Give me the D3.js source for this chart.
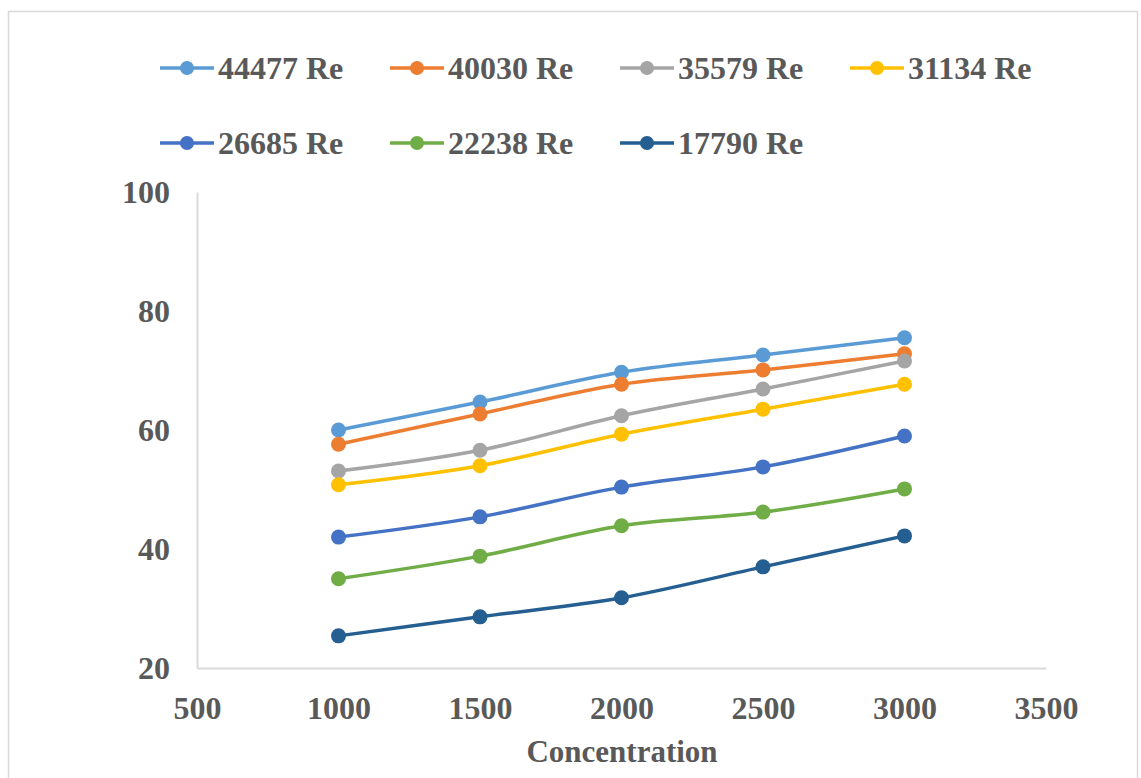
<!DOCTYPE html>
<html lang="en">
    <head>
        <meta charset="utf-8">
        <title>Concentration vs Re</title>
        <script src="https://d3js.org/d3.v7.min.js"></script>
        <style type="text/css">
        body {
            margin: 0;
            background: white;
        }
        .tick-label {
            font-family: "Liberation Serif", "Times New Roman", serif;
            font-size: 32px;
            font-weight: bold;
            fill: #595959;
        }
        .axis-title {
            font-family: "Liberation Serif", "Times New Roman", serif;
            font-size: 31px;
            font-weight: bold;
            fill: #595959;
        }
        .legend-label {
            font-family: "Liberation Serif", "Times New Roman", serif;
            font-size: 32px;
            font-weight: bold;
            fill: #595959;
        }
        </style>
    </head>
    <body>
    <div id="vis"></div>

    <script type="text/javascript">

        const width = 1141;
        const height = 778;

        // chart data
        const concentrations = [1000, 1500, 2000, 2500, 3000];
        const seriesNames = ["44477 Re", "40030 Re", "35579 Re", "31134 Re", "26685 Re", "22238 Re", "17790 Re"];
        const seriesColors = ["#5B9BD5", "#ED7D31", "#A5A5A5", "#FFC000", "#4472C4", "#70AD47", "#255E91"];
        const re44477 = [60.0, 64.7, 69.7, 72.6, 75.5];
        const re40030 = [57.6, 62.7, 67.7, 70.1, 72.8];
        const re35579 = [53.1, 56.6, 62.4, 66.9, 71.6];
        const re31134 = [50.8, 54.0, 59.3, 63.5, 67.7];
        const re26685 = [42.0, 45.4, 50.4, 53.8, 59.0];
        const re22238 = [35.0, 38.8, 43.9, 46.2, 50.1];
        const re17790 = [25.4, 28.6, 31.8, 37.0, 42.2];
        const xTicks = [500, 1000, 1500, 2000, 2500, 3000, 3500];
        const yTicks = [20, 40, 60, 80, 100];

        const allValues = [re44477, re40030, re35579, re31134, re26685, re22238, re17790];
        const series = seriesNames.map((name, i) => ({
            name: name,
            color: seriesColors[i],
            points: concentrations.map((c, j) => ({x: c, y: allValues[i][j]}))
        }));

        const xScale = d3.scaleLinear()
                         .domain([500, 3500])
                         .range([197, 1046]);

        const yScale = d3.scaleLinear()
                         .domain([20, 100])
                         .range([668, 192]);

        const svg = d3.select("#vis")
                      .append("svg")
                      .attr("width", width)
                      .attr("height", height);

        // chart border
        svg.append("rect")
           .attr("x", 8.5)
           .attr("y", 11.5)
           .attr("width", 1129)
           .attr("height", 800)
           .attr("fill", "white")
           .attr("stroke", "#D9D9D9")
           .attr("stroke-width", 1.5);

        // axes
        const bottomAxis = d3.axisBottom(xScale)
                             .tickValues(xTicks)
                             .tickSize(0)
                             .tickPadding(28)
                             .tickFormat(d3.format("d"));

        const leftAxis = d3.axisLeft(yScale)
                           .tickValues(yTicks)
                           .tickSize(0)
                           .tickPadding(27)
                           .tickFormat(d3.format("d"));

        const gx = svg.append("g")
                      .attr("transform", "translate(0," + yScale(20) + ")")
                      .call(bottomAxis);
        gx.select(".domain").attr("stroke", "#D9D9D9").attr("stroke-width", 2);
        gx.selectAll("text").attr("class", "tick-label").attr("fill", null);

        const gy = svg.append("g")
                      .attr("transform", "translate(" + xScale(500) + ",0)")
                      .call(leftAxis);
        gy.select(".domain").attr("stroke", "#D9D9D9").attr("stroke-width", 2);
        gy.selectAll("text").attr("class", "tick-label").attr("fill", null);

        // lines (smoothed like excel)
        const line = d3.line()
                       .x(d => xScale(d.x))
                       .y(d => yScale(d.y))
                       .curve(d3.curveCatmullRom.alpha(0.5));

        // each series: line then its markers, in legend order
        const groups = svg.selectAll(".series")
                          .data(series)
                          .enter()
                          .append("g")
                          .attr("class", "series");

        groups.append("path")
              .attr("d", d => line(d.points))
              .attr("fill", "none")
              .attr("stroke", d => d.color)
              .attr("stroke-width", 3.5)
              .attr("stroke-linecap", "round");

        groups.selectAll("circle")
              .data(d => d.points.map(p => ({x: p.x, y: p.y, color: d.color})))
              .enter()
              .append("circle")
              .attr("cx", d => xScale(d.x))
              .attr("cy", d => yScale(d.y))
              .attr("r", 7.5)
              .attr("fill", d => d.color);

        // legend
        const legendCols = [160, 390, 620, 850];
        const legendRows = [68, 143];

        const legend = svg.selectAll(".legend-item")
                          .data(series)
                          .enter()
                          .append("g")
                          .attr("class", "legend-item")
                          .attr("transform", (d, i) => "translate(" + legendCols[i % 4] + "," + legendRows[Math.floor(i / 4)] + ")");

        legend.append("line")
              .attr("x1", 0)
              .attr("x2", 54)
              .attr("y1", 0)
              .attr("y2", 0)
              .attr("stroke", d => d.color)
              .attr("stroke-width", 3.5);

        legend.append("circle")
              .attr("cx", 27)
              .attr("cy", 0)
              .attr("r", 7)
              .attr("fill", d => d.color);

        legend.append("text")
              .attr("class", "legend-label")
              .attr("x", 58)
              .attr("y", 11)
              .text(d => d.name);

        // x axis title
        svg.append("text")
           .attr("class", "axis-title")
           .attr("x", 622)
           .attr("y", 762)
           .attr("text-anchor", "middle")
           .text("Concentration");

    </script>
    </body>
</html>
